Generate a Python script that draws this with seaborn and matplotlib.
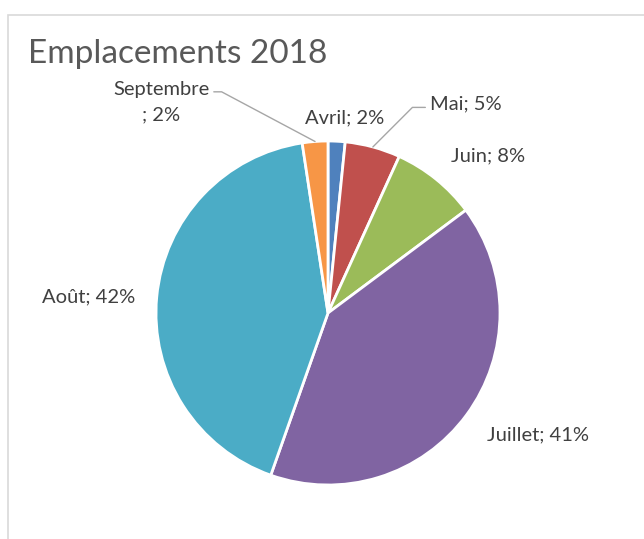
'''Emplacements 2018 - pie chart by month'''

import numpy as np
import seaborn as sns
import matplotlib.pyplot as plt
from matplotlib.patches import Rectangle

# data (share of emplacements, %)
mois = ['Avril', 'Mai', 'Juin', 'Juillet', 'Août', 'Septembre']
parts = [1.6, 5.2, 8.0, 40.6, 42.2, 2.4]
couleurs = ['#4F81BD', '#C0504D', '#9BBB59', '#8064A2', '#4BACC6', '#F79646']

sns.set_theme(style='white')
plt.rcParams['font.family'] = ['Lato', 'DejaVu Sans']

W, H = 644, 539
fig = plt.figure(figsize=(W / 100, H / 100), dpi=100)

# light chart frame, cut off at right and bottom like the screenshot
fig.patches.append(Rectangle((8 / W, -0.1), 1.2, 1 - 15 / H + 0.1,
                             transform=fig.transFigure, fill=False,
                             edgecolor='#d9d9d9', lw=1.2))

# pie area: centre (328, 313) px, radius 172 px
cx, cy, r = 328, 313, 172
ax = fig.add_axes([(cx - r) / W, (H - cy - r) / H, 2 * r / W, 2 * r / H])
wedges, _ = ax.pie(parts, colors=couleurs, startangle=90, counterclock=False,
                   radius=1, wedgeprops=dict(edgecolor='white', linewidth=2))
ax.set_xlim(-1, 1)
ax.set_ylim(-1, 1)
ax.set_aspect('equal')
ax.axis('off')

fig.text(28 / W, 1 - 54 / H, 'Emplacements 2018', fontsize=24,
         color='#595959', ha='left', va='center')


def px(x, y):
    # pixel position -> data coords of the pie axes
    return (x - cx) / r, (cy - y) / r


def bord(w, k=1.0):
    a = np.deg2rad((w.theta1 + w.theta2) / 2)
    return k * np.cos(a), k * np.sin(a)


# label layout (pixel positions of text), only placement
place = {
    'Avril': (345, 118, 'center', None),
    'Mai': (430, 104, 'left', (0, 0.3, 180, 45)),
    'Juin': (488, 156, 'center', None),
    'Juillet': (538, 435, 'center', None),
    'Août': (89, 297, 'center', None),
    'Septembre': (161, 102, 'center', (1, 0.74, 0, -28)),
}

for w, m, p in zip(wedges, mois, parts):
    x, y, ha, lead = place[m]
    txt = f'{m}; {p:.0f}%'
    if m == 'Septembre':
        txt = f'{m}\n; {p:.0f}%'
    kw = dict(fontsize=14.5, color='#404040', ha=ha, va='center',
              linespacing=1.6, annotation_clip=False)
    if lead is None:
        ax.annotate(txt, xy=px(x, y), **kw)
    else:
        rx, ry, aA, aB = lead
        ax.annotate(txt, xy=bord(w, 1.0), xytext=px(x, y),
                    arrowprops=dict(arrowstyle='-', color='#a6a6a6', lw=1,
                                    relpos=(rx, ry), shrinkA=1, shrinkB=0,
                                    connectionstyle=f'angle,angleA={aA},angleB={aB},rad=0'),
                    **kw)

plt.savefig('out.png', dpi=100)
